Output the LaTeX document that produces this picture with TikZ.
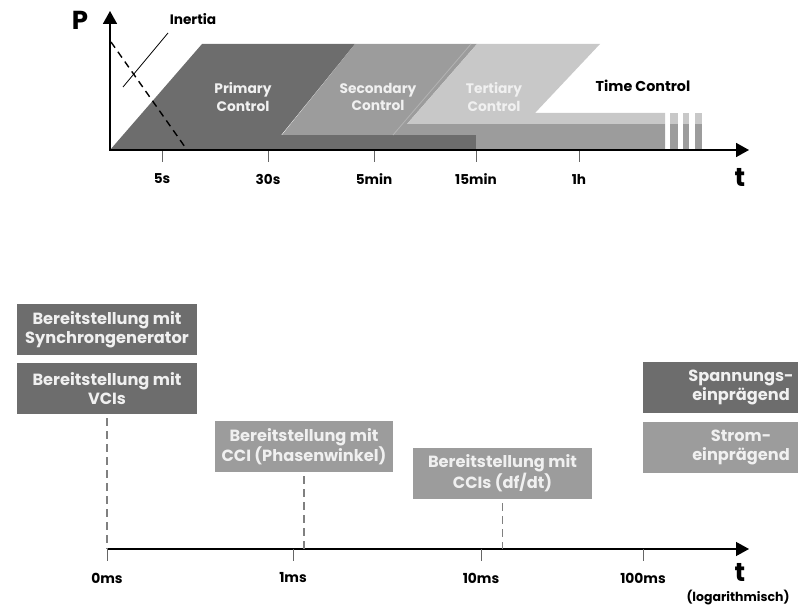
\documentclass[tikz,border=0pt]{standalone}
\usepackage{fontspec}
\setmainfont{Poppins}
\usetikzlibrary{arrows.meta}
\definecolor{dk}{HTML}{6D6D6D}
\definecolor{md}{HTML}{9C9C9C}
\definecolor{lt}{HTML}{C8C8C8}
\definecolor{tx}{HTML}{F0F0F0}
\definecolor{sep}{HTML}{B4B4B4}
\begin{document}
\begin{tikzpicture}[x=1pt,y=-1pt,
  axisline/.style={line width=1.8pt,-{Triangle[length=13pt,width=14pt]}},
  axislineb/.style={line width=1.4pt,-{Triangle[length=13pt,width=14pt]}},
  tickline/.style={line width=0.9pt,draw=black!60},
  ticklbl/.style={font=\bfseries\fontsize{13.6}{15}\selectfont},
  ticklblb/.style={font=\bfseries\fontsize{13.8}{15}\selectfont},
  biglbl/.style={font=\bfseries\fontsize{26}{28}\selectfont},
  ctrl/.style={font=\bfseries\fontsize{13.8}{17.5}\selectfont,align=center,text=tx},
  boxtxt/.style={font=\bfseries\fontsize{16.2}{19}\selectfont,align=center,text=tx},
  box/.style={boxtxt,minimum width=180pt,minimum height=51pt,inner sep=0pt},
  guide/.style={line width=1.2pt,draw=black!50,dash pattern=on 8pt off 5pt}]
\useasboundingbox (0,0) rectangle (798,609);

% ---------- top chart ----------
% primary control
\fill[dk] (110,150) -- (202,44) -- (355,44) -- (269,150) -- cycle;
\fill[dk] (269,135) rectangle (476,150);
% secondary control
\fill[md] (282,135) -- (355,44) -- (477,44) -- (407,124) -- (665,124) -- (665,150) -- (476,150) -- (476,135) -- cycle;
% tertiary control
\fill[lt] (407,124) -- (477,44) -- (600,44) -- (535,113) -- (665,113) -- (665,124) -- cycle;
\draw[sep,line width=0.8pt] (393,135) -- (471,44);
% stripes
\foreach \a/\b in {670/678,683/689,695/702}{
  \fill[lt] (\a,113) rectangle (\b,124);
  \fill[md] (\a,124) rectangle (\b,150);
}
% inertia
\draw[line width=1.4pt,dash pattern=on 7pt off 5pt] (111,42) -- (185,147);
\draw[line width=0.8pt] (123,87) -- (168,33);
\node[font=\bfseries\fontsize{13.7}{15}\selectfont] (inertia) at (193,19) {Inertia};

% axes
\coordinate (o) at (110,150);
\coordinate (ytop) at (110,11);
\coordinate (xend) at (749,150);
\draw[axisline] (o) -- (ytop);
\draw[axisline] ([xshift=-1pt]o) -- (xend);
\node[biglbl] (P) at (80,20) {P};
\node[biglbl] (t1) at (740,177) {t};

% ticks
\foreach \x/\l/\n in {162/5s/a,268/30s/b,374/5min/c,476/15min/d,579/1h/e}{
  \coordinate (tk\n) at (\x,151);
  \draw[tickline] (tk\n) -- ++(0,11);
  \node[ticklbl] (tl\n) at (\x,179) {\l};
}

\node[ctrl] (prim) at (243,97) {Primary\\Control};
\node[ctrl] (sec) at (378,97) {Secondary\\Control};
\node[ctrl] (ter) at (494,97) {Tertiary\\Control};
\node[font=\bfseries\fontsize{14.3}{16}\selectfont] (time) at (643,86) {Time Control};

% ---------- bottom chart ----------
\coordinate (bo) at (107,549);
\coordinate (bend) at (749,549);
\draw[axislineb] (bo) -- (bend);
\foreach \x/\l/\n in {107/0ms/a,293/1ms/b,481/10ms/c,643/100ms/d}{
  \coordinate (bt\n) at (\x,549);
  \draw[tickline] (bt\n) -- ++(0,12);
  \node[ticklblb] (btl\n) at (\x,578) {\l};
}
\node[biglbl] (t2) at (740,572) {t};
\node[font=\bfseries\fontsize{12.5}{14}\selectfont] (loga) at (738,598) {(logarithmisch)};

\node[box,fill=dk] (sync) at (107,330) {Bereitstellung mit\\Synchrongenerator};
\node[box,fill=dk] (vci) at (107,388.5) {Bereitstellung mit\\VCIs};
\node[box,fill=md,minimum width=178pt] (cci) at (304,446.5) {Bereitstellung mit\\CCI (Phasenwinkel)};
\node[box,fill=md,minimum width=179pt] (ccis) at (502.5,473.5) {Bereitstellung mit\\CCIs (df/dt)};

\coordinate (g1) at (107,549);
\coordinate (g2) at (304,549);
\coordinate (g3) at (502.5,549);
\draw[guide] ([yshift=-4pt]vci.south) -- (g1);
\draw[guide] ([yshift=-4pt]cci.south) -- (g2);
\draw[guide] ([yshift=-4pt]ccis.south) -- (g3);

\fill[dk] (643,362) rectangle (798,413);
\fill[md] (643,422) rectangle (798,473);
\node[boxtxt] (span) at (741,387.5) {Spannungs-\\einprägend};
\node[boxtxt] (strom) at (741,447.5) {Strom-\\einprägend};
\end{tikzpicture}
\end{document}
